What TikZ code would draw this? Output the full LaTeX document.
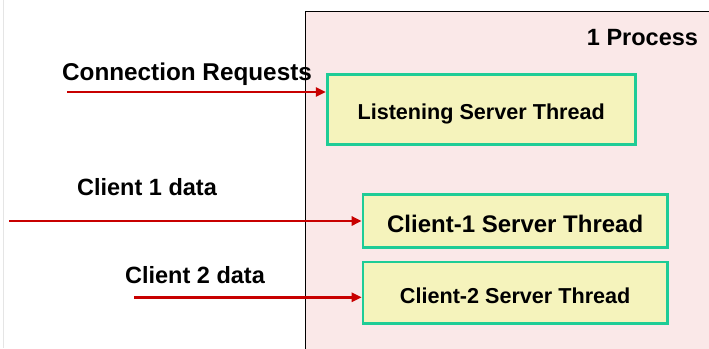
\documentclass[tikz,border=0pt]{standalone}
\usepackage{fontspec}
\setmainfont{Liberation Sans}
\usetikzlibrary{arrows.meta}
\definecolor{procfill}{RGB}{250,232,232}
\definecolor{thrfill}{RGB}{245,243,188}
\definecolor{thrborder}{RGB}{30,204,150}
\definecolor{feedred}{RGB}{200,0,0}
\begin{document}
\begin{tikzpicture}[x=1pt,y=-1pt,
  thread/.style={draw=thrborder, fill=thrfill, line width=2.6pt, inner sep=0pt,
    text depth=0pt, font=\bfseries\fontsize{21.6}{24}\selectfont},
  bigtext/.style={font=\bfseries\fontsize{24}{26}\selectfont},
  feed/.style={draw=feedred, line width=2.8pt, -{Triangle[length=10pt,width=9pt]}},
  tag/.style={font=\bfseries\fontsize{23.5}{26}\selectfont, anchor=base, inner sep=0pt}]
\useasboundingbox (0,0) rectangle (709,348);
% faint page edge
\draw[gray!20, line width=0.8pt] (3.5,0) -- (3.5,348);
% the process area, running off the page
\begin{scope}
  \clip (0,0) rectangle (709,348);
  \draw[fill=procfill, line width=1pt] (305.5,11) rectangle (730,370);
\end{scope}
\node[tag] (proc) at (642.5,45) {1 Process};
% threads
\node[thread, text height=20.6pt, minimum width=308pt, minimum height=70pt] (lst) at (481.2,109.5) {Listening Server Thread};
\node[thread, bigtext, text height=22.8pt, minimum width=304.4pt, minimum height=53pt] (c1) at (515.2,221.2) {Client-1 Server Thread};
\node[thread, text height=20.4pt, minimum width=304.4pt, minimum height=61.7pt] (c2) at (515.2,292.9) {Client-2 Server Thread};
% incoming data
\node[tag, font=\bfseries\fontsize{24.3}{26}\selectfont] (lconn) at (187,80) {Connection Requests};
\node[tag] (lc1) at (147,195) {Client 1 data};
\node[tag] (lc2) at (195,283) {Client 2 data};
\coordinate (sconn) at (67,92);
\coordinate (sc1) at (9,221);
\coordinate (sc2) at (134,297.3);
\draw[feed] (sconn) -- (lst.west |- sconn);
\draw[feed] (sc1) -- (c1.west |- sc1);
\draw[feed] (sc2) -- (c2.west |- sc2);
\end{tikzpicture}
\end{document}
